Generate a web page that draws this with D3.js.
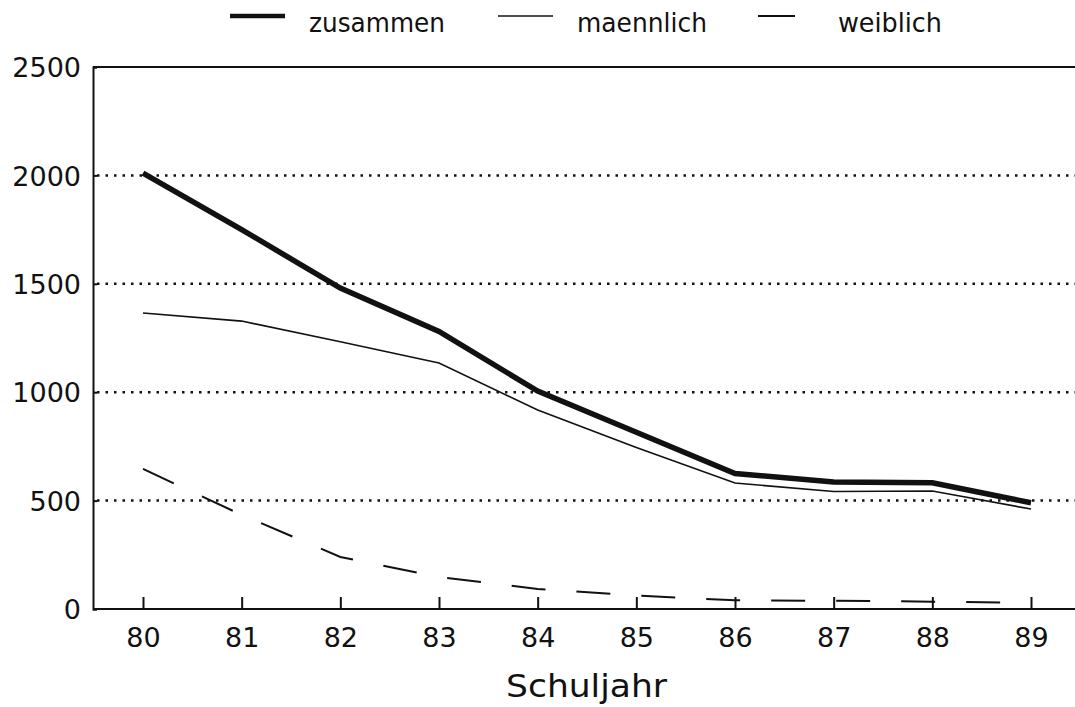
<!DOCTYPE html>
<html>
<head>
<meta charset="utf-8">
<script src="https://cdn.jsdelivr.net/npm/d3@7"></script>
<style>
  body { margin: 0; background: #fff; }
  svg text { font-family: "DejaVu Sans", "Liberation Sans", sans-serif; fill: #111; }
</style>
</head>
<body>
<svg width="1075" height="707"></svg>
<script>
// school years (x categories)
var years = ["80", "81", "82", "83", "84", "85", "86", "87", "88", "89"];

// series values
var zusammen  = [2010, 1750, 1480, 1280, 1005, 815, 625, 586, 582, 490];
var maennlich = [1365, 1328, 1233, 1135, 918, 745, 581, 542, 544, 461];
var weiblich  = [646, 434, 240, 148, 92, 62, 40, 38, 34, 28];

var yTicks = [0, 500, 1000, 1500, 2000, 2500];
var gridTicks = [500, 1000, 1500, 2000];

var svg = d3.select("svg");
var plotL = 93, plotR = 1075, plotT = 67, plotB = 609;

var x = d3.scalePoint()
    .domain(years)
    .range([143, 1031]);

var y = d3.scaleLinear()
    .domain([0, 2500])
    .range([plotB, plotT]);

// dotted grid lines
svg.append("g")
    .selectAll("line")
    .data(gridTicks)
    .enter()
    .append("line")
    .attr("x1", plotL + 4)
    .attr("x2", plotR)
    .attr("y1", d => y(d))
    .attr("y2", d => y(d))
    .style("stroke", "#111")
    .style("stroke-width", 2.5)
    .style("stroke-dasharray", "2.5 6");

// frame top line
svg.append("line")
    .attr("x1", plotL).attr("x2", plotR)
    .attr("y1", y(2500)).attr("y2", y(2500))
    .style("stroke", "#111")
    .style("stroke-width", 2);

// y axis
var yAxis = svg.append("g")
    .attr("transform", `translate(${plotL},0)`)
    .call(d3.axisLeft(y).tickValues(yTicks).tickSize(-4).tickPadding(12).tickFormat(d3.format("d")));
yAxis.select(".domain").style("stroke-width", 2).style("stroke", "#111");
yAxis.selectAll(".tick line").style("stroke-width", 2).style("stroke", "#111");
yAxis.selectAll("text").style("font-size", "27px").attr("dy", "0.36em");

// x axis
var xAxis = svg.append("g")
    .attr("transform", `translate(0,${plotB})`)
    .call(d3.axisBottom(x).tickSize(-12).tickPadding(19).tickSizeOuter(0));
xAxis.select(".domain").attr("d", `M${plotL},0H${plotR}`).style("stroke-width", 2).style("stroke", "#111");
xAxis.selectAll(".tick line").style("stroke-width", 2).style("stroke", "#111");
xAxis.selectAll("text").style("font-size", "27px");

// x axis title
svg.append("text")
    .attr("x", 506)
    .attr("y", 697)
    .attr("textLength", 161)
    .attr("lengthAdjust", "spacingAndGlyphs")
    .style("font-size", "32px")
    .text("Schuljahr");

// lines
var line = d3.line()
    .x((d, i) => x(years[i]))
    .y(d => y(d));

var series = [
    { name: "zusammen", values: zusammen, width: 5.5, dash: null },
    { name: "maennlich", values: maennlich, width: 1.6, dash: null },
    { name: "weiblich", values: weiblich, width: 2, dash: "34 31" }
];

svg.append("g")
    .selectAll("path")
    .data(series)
    .enter()
    .append("path")
    .attr("d", d => line(d.values))
    .style("fill", "none")
    .style("stroke", "#111")
    .style("stroke-width", d => d.width)
    .style("stroke-dasharray", d => d.dash);

// legend: swatch start, swatch end, text start, text width
var legendX = [[230, 285, 309, 136], [498, 553, 577, 130], [758, 795, 838, 104]];
var legend = svg.append("g")
    .selectAll("g")
    .data(series)
    .enter()
    .append("g");

legend.append("line")
    .attr("x1", (d, i) => legendX[i][0])
    .attr("x2", (d, i) => legendX[i][1])
    .attr("y1", 16)
    .attr("y2", 16)
    .style("stroke", "#111")
    .style("stroke-width", d => Math.min(d.width, 4.5));

legend.append("text")
    .attr("x", (d, i) => legendX[i][2])
    .attr("y", 32)
    .attr("textLength", (d, i) => legendX[i][3])
    .attr("lengthAdjust", "spacingAndGlyphs")
    .style("font-size", "27px")
    .text(d => d.name);
</script>
</body>
</html>
